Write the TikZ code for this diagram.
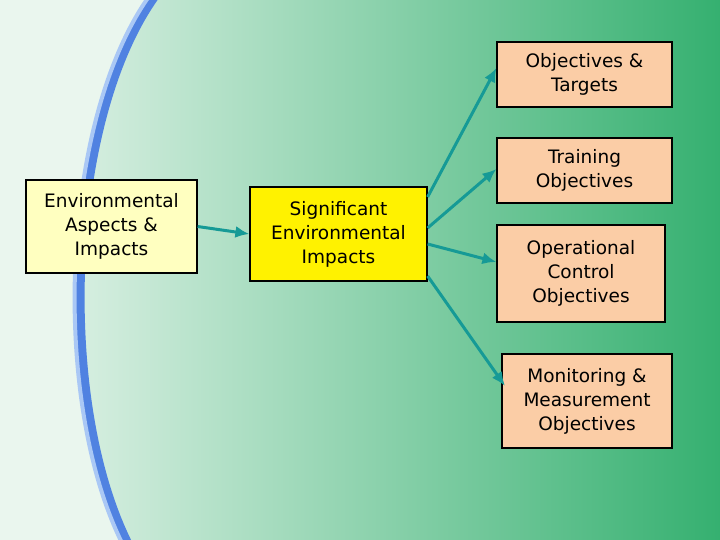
\documentclass[tikz,border=0pt]{standalone}
\usepackage{fontspec}
\setmainfont{DejaVu Sans}
\usetikzlibrary{arrows.meta}
\begin{document}
\begin{tikzpicture}[x=1pt,y=-1pt,
  box/.style={draw=black,line width=1.2pt,align=center,font=\fontsize{18.5}{24}\selectfont,inner sep=2pt},
  peach/.style={box,fill=peach},
  arr/.style={draw=teal2,line width=3pt,-{Latex[length=14pt,width=12pt]}}]
\definecolor{peach}{HTML}{FBCDA6}
\definecolor{teal2}{HTML}{169A96}
\definecolor{ltyel}{HTML}{FFFFC0}
\definecolor{bgl}{HTML}{EAF6EE}
\definecolor{bgm}{HTML}{A8DCBC}
\definecolor{bgr}{HTML}{35B070}
\useasboundingbox (0,0) rectangle (720,540);
\shade[left color=bgl,middle color=bgm,right color=bgr] (0,0) rectangle (720,540);
\fill[bgl] (0,0) -- (155,0) .. controls (65,120) and (55,400) .. (128,540) -- (0,540) -- cycle;
\draw[line width=10pt,color={rgb,255:red,80;green,130;blue,225}] (155,-5) .. controls (65,120) and (55,400) .. (128,545);
\draw[line width=4pt,color={rgb,255:red,170;green,200;blue,245}] (150,-5) .. controls (60,120) and (50,400) .. (123,545);
\node[box,fill=ltyel,minimum width=171,minimum height=93] (a) at (111.5,226.5) {Environmental\\Aspects \&\\Impacts};
\node[box,fill=yellow,minimum width=177,minimum height=94] (b) at (338.5,234) {Significant\\Environmental\\Impacts};
\node[peach,minimum width=175,minimum height=65] (c) at (584.5,74.5) {Objectives \&\\Targets};
\node[peach,minimum width=175,minimum height=65] (d) at (584.5,170.5) {Training\\Objectives};
\node[peach,minimum width=168,minimum height=97] (e) at (581,273.5) {Operational\\Control\\Objectives};
\node[peach,minimum width=170,minimum height=94] (f) at (587,401) {Monitoring \&\\Measurement\\Objectives};
\draw[arr] (a.east) -- (b.west);
\draw[arr] (b.east |- 0,197) -- (c.west |- 0,68);
\draw[arr] (b.east |- 0,228) -- (d.west |- 0,169);
\draw[arr] (b.east |- 0,244) -- (e.west |- 0,262);
\draw[arr] (b.east |- 0,276) -- (505,386);
\end{tikzpicture}
\end{document}
